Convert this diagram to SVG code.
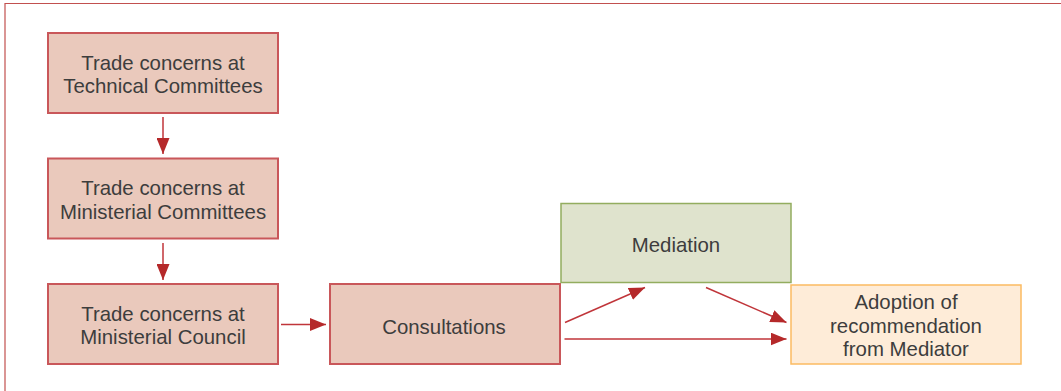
<svg xmlns="http://www.w3.org/2000/svg" width="1061" height="391" viewBox="0 0 1061 391">
<defs>
<marker id="ah" viewBox="0 0 16 13" refX="16" refY="6.5" markerWidth="16" markerHeight="13" markerUnits="userSpaceOnUse" orient="auto">
<path d="M0,0 L16,6.5 L0,13 Z" fill="#b5292a"/>
</marker>
<style>
.pink rect{fill:#eac9bc;stroke:#c9575a;stroke-width:2}
.green rect{fill:#dfe3cd;stroke:#93ad5f;stroke-width:1.5}
.orange rect{fill:#feecd8;stroke:#fbbb62;stroke-width:1.5}
text{font-family:"Liberation Sans",Arial,sans-serif;font-size:20.4px;fill:#3d3d3d;text-anchor:middle}
.conn line{stroke:#c0353a;stroke-width:1.5;marker-end:url(#ah)}
</style>
</defs>
<rect width="1061" height="391" fill="#ffffff"/>
<g id="frame" fill="none" stroke="#c2504f" stroke-width="1.2">
<path d="M5,391 V3.5 H1061"/>
</g>
<g id="n1" class="pink"><rect x="48" y="33" width="230" height="80"/><text x="163" y="69.5">Trade concerns at</text><text x="163" y="93">Technical Committees</text></g>
<g id="n2" class="pink"><rect x="48" y="158.5" width="230" height="80"/><text x="163" y="195">Trade concerns at</text><text x="163" y="218.5">Ministerial Committees</text></g>
<g id="n3" class="pink"><rect x="48" y="284" width="230" height="80"/><text x="163" y="320.5">Trade concerns at</text><text x="163" y="344">Ministerial Council</text></g>
<g id="n4" class="pink"><rect x="330" y="284" width="230" height="80"/><text x="444" y="333.5">Consultations</text></g>
<g id="n5" class="green"><rect x="561" y="203.5" width="230" height="79"/><text x="676" y="251.5">Mediation</text></g>
<g id="n6" class="orange"><rect x="791" y="285" width="230" height="79"/><text x="906" y="308.5">Adoption of</text><text x="906" y="332.5">recommendation</text><text x="906" y="356">from Mediator</text></g>
<g id="connectors" class="conn">
<line x1="163" y1="117" x2="163" y2="154"/>
<line x1="163" y1="243" x2="163" y2="280"/>
<line x1="281" y1="324.5" x2="326" y2="324.5"/>
<line x1="565" y1="322.5" x2="645" y2="287.5"/>
<line x1="706" y1="287.5" x2="786.5" y2="322.5"/>
<line x1="564.5" y1="339" x2="786.5" y2="339"/>
</g>
</svg>
